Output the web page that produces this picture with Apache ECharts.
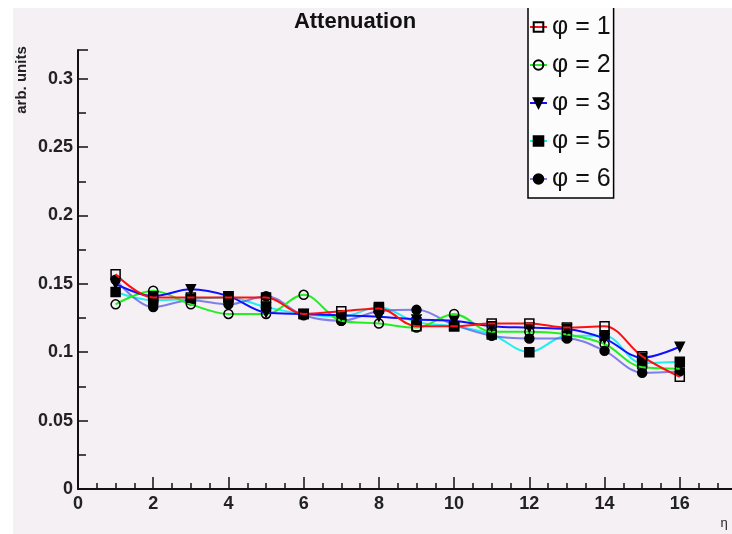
<!DOCTYPE html>
<html>
<head>
<meta charset="utf-8">
<script src="https://cdn.jsdelivr.net/npm/echarts@6/dist/echarts.min.js"></script>
<style>
  html, body { margin: 0; padding: 0; background: #fff; }
  #chart { position: absolute; left: 13px; top: 8px; width: 719px; height: 526px; }
</style>
</head>
<body>
<div id="chart"></div>
<script>
// eta bins
var etaBins = [1, 2, 3, 4, 5, 6, 7, 8, 9, 10, 11, 12, 13, 14, 15, 16];
// attenuation per phi slice
var phi1 = [0.157, 0.140, 0.140, 0.140, 0.140, 0.128, 0.130, 0.132, 0.119, 0.119, 0.121, 0.121, 0.118, 0.119, 0.097, 0.082];
var phi2 = [0.135, 0.145, 0.135, 0.128, 0.128, 0.142, 0.123, 0.121, 0.118, 0.128, 0.115, 0.115, 0.113, 0.106, 0.089, 0.088];
var phi3 = [0.150, 0.141, 0.146, 0.141, 0.129, 0.128, 0.127, 0.126, 0.124, 0.123, 0.119, 0.118, 0.117, 0.110, 0.096, 0.104];
var phi5 = [0.144, 0.138, 0.139, 0.140, 0.133, 0.128, 0.126, 0.133, 0.122, 0.119, 0.113, 0.100, 0.112, 0.112, 0.092, 0.093];
var phi6 = [0.153, 0.133, 0.138, 0.135, 0.141, 0.127, 0.123, 0.130, 0.131, 0.120, 0.112, 0.110, 0.110, 0.101, 0.085, 0.086];
var seriesNames = ['φ = 1', 'φ = 2', 'φ = 3', 'φ = 5', 'φ = 6'];

var pairs = function(values){
    return values.map(function(v, i){ return [etaBins[i], v]; });
};

var makeLine = function(name, values, lineColor, symbol, fill, z){
    return {
        name: name,
        type: 'line',
        data: pairs(values),
        smooth: 0.35,
        symbol: symbol,
        symbolSize: 9,
        z: z,
        lineStyle: { color: lineColor, width: 2 },
        itemStyle: { color: fill, borderColor: '#000', borderWidth: 1.5 },
        emphasis: { disabled: true }
    };
};

var myChart = echarts.init(document.getElementById('chart'));
var font = 'Liberation Sans, Arial, sans-serif';

var option = {
    backgroundColor: '#f4f0f4',
    animation: false,
    title: {
        text: 'Attenuation',
        left: 342,
        top: 3,
        textAlign: 'center',
        padding: 0,
        textStyle: { fontFamily: font, fontSize: 22, fontWeight: 'bold', color: '#111' }
    },
    legend: {
        orient: 'vertical',
        left: 515,
        top: -15,
        padding: [20, 3, 5, 1],
        itemGap: 10,
        itemWidth: 17,
        itemHeight: 12,
        itemTextGap: 0,
        backgroundColor: '#fdfcfd',
        borderColor: '#000',
        borderWidth: 1.5,
        data: seriesNames,
        textStyle: { fontFamily: font, fontSize: 25, lineHeight: 28, color: '#111' }
    },
    grid: { left: 65, top: 42, right: -23, bottom: 45, outerBoundsMode: 'none' },
    xAxis: [{
        type: 'value',
        min: 0,
        max: 18,
        interval: 2,
        axisLine: { onZero: false, lineStyle: { color: '#111', width: 2 } },
        axisTick: { inside: true, length: 12, lineStyle: { color: '#111', width: 1.5 } },
        minorTick: { show: true, splitNumber: 4, length: 6, lineStyle: { color: '#111', width: 1.5 } },
        splitLine: { show: false },
        axisLabel: { margin: 6, fontFamily: font, fontSize: 18, fontWeight: 'bold', color: '#222' }
    }, {
        type: 'value',
        position: 'top',
        min: 0,
        max: 18,
        axisLine: { show: true, lineStyle: { color: '#111', width: 2 } },
        axisTick: { show: false },
        axisLabel: { show: false },
        splitLine: { show: false }
    }],
    yAxis: {
        type: 'value',
        min: 0,
        max: 0.321,
        interval: 0.05,
        axisLine: { show: true, onZero: false, lineStyle: { color: '#111', width: 2 } },
        axisTick: { inside: true, length: 10, lineStyle: { color: '#111', width: 1.5 } },
        minorTick: { show: true, splitNumber: 2, length: 8, lineStyle: { color: '#111', width: 1.5 } },
        splitLine: { show: false },
        axisLabel: { margin: 5, showMaxLabel: false, fontFamily: font, fontSize: 18, fontWeight: 'bold', color: '#222' }
    },
    graphic: [{
        type: 'text',
        x: 9,
        y: 72,
        rotation: Math.PI / 2,
        style: { text: 'arb. units', fontFamily: font, fontSize: 15, fontWeight: 'bold', fill: '#222', align: 'center', verticalAlign: 'middle' }
    }, {
        type: 'text',
        x: 711,
        y: 515,
        style: { text: 'η', fontFamily: font, fontSize: 13, fill: '#222', align: 'center', verticalAlign: 'middle' }
    }],
    series: [
        makeLine(seriesNames[1], phi2, '#22ee22', 'circle', 'rgba(0,0,0,0)', 3),
        makeLine(seriesNames[2], phi3, '#1010ff', 'path://M0,0 L10,0 L5,9 Z', '#000', 4),
        makeLine(seriesNames[3], phi5, '#22eeee', 'rect', '#000', 2),
        makeLine(seriesNames[4], phi6, 'rgba(90,90,230,0.75)', 'circle', '#000', 2),
        makeLine(seriesNames[0], phi1, '#ff1010', 'rect', 'rgba(0,0,0,0)', 5)
    ]
};

myChart.setOption(option);
</script>
</body>
</html>
